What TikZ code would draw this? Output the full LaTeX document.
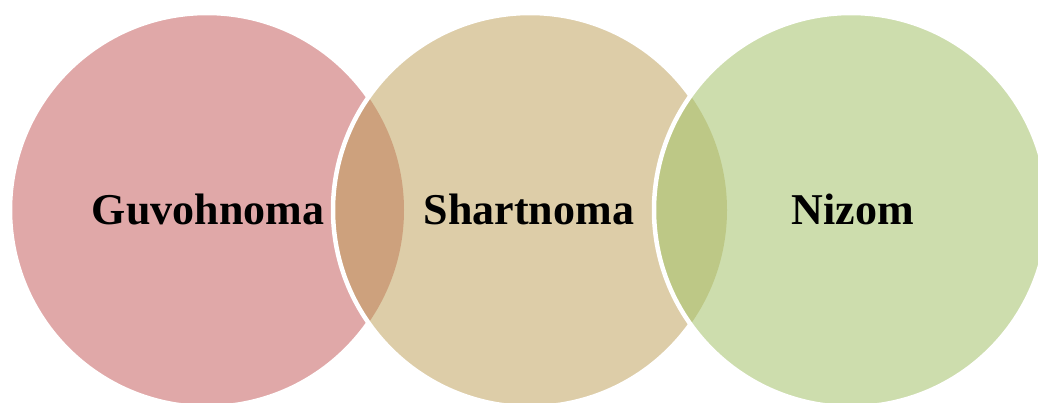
\documentclass[tikz,border=0pt]{standalone}
\usepackage{fontspec}
\setmainfont{Liberation Serif}
\begin{document}
\begin{tikzpicture}[x=1pt,y=-1pt,
  circfill/.style={circle, minimum size=394pt, inner sep=0pt},
  rim/.style={draw=white, line width=4.5pt},
  lbl/.style={anchor=base, inner sep=0pt, font=\fontsize{44}{50}\selectfont\bfseries, text=black}]
\definecolor{cpink}{RGB}{224,168,168}
\definecolor{ctan}{RGB}{221,205,168}
\definecolor{cgreen}{RGB}{205,221,173}
\definecolor{lensA}{RGB}{205,161,125}
\definecolor{lensB}{RGB}{189,200,134}
\useasboundingbox (0,0) rectangle (1038,402);
\fill[white] (0,0) rectangle (1038,402);
% left circle
\node[circfill, fill=cpink, rim] (c1) at (207,210) {};
% middle circle
\node[circfill, fill=ctan] (c2) at (530,210) {};
\begin{scope}
  \clip (207,210) circle[radius=197pt];
  \fill[lensA] (530,210) circle[radius=197pt];
\end{scope}
\node[circfill, rim] (c2r) at (530,210) {};
% right circle
\node[circfill, fill=cgreen] (c3) at (851,210) {};
\begin{scope}
  \clip (530,210) circle[radius=197pt];
  \fill[lensB] (851,210) circle[radius=197pt];
\end{scope}
\node[circfill, rim] (c3r) at (851,210) {};
% labels
\node[lbl] (t1) at (208,224) {Guvohnoma};
\node[lbl] (t2) at (529,224) {Shartnoma};
\node[lbl] (t3) at (853,224) {Nizom};
\end{tikzpicture}
\end{document}
